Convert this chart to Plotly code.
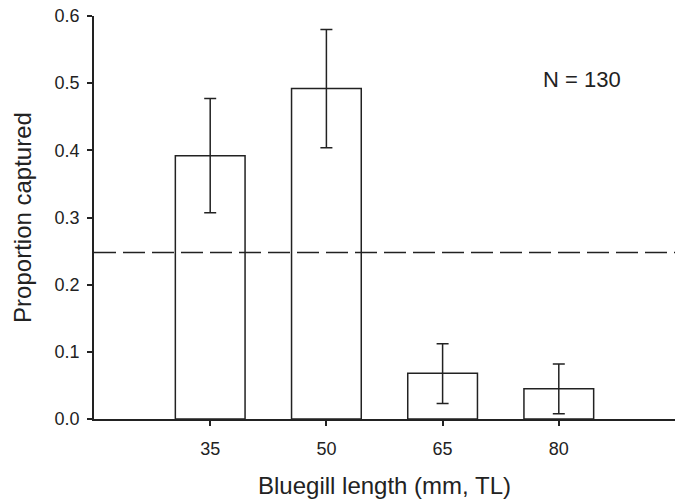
import plotly.graph_objects as go

lengths = [35, 50, 65, 80]
proportion = [0.392, 0.492, 0.068, 0.045]
err_plus = [0.085, 0.088, 0.044, 0.037]
err_minus = [0.085, 0.088, 0.045, 0.037]
expected = 0.248
tick_vals_y = [0.0, 0.1, 0.2, 0.3, 0.4, 0.5, 0.6]
tick_text_y = ["0.0", "0.1", "0.2", "0.3", "0.4", "0.5", "0.6"]

ink = "#222222"
font_family = "Liberation Sans, Arial, Helvetica, sans-serif"

fig = go.Figure()
fig.add_trace(go.Bar(
    x=lengths, y=proportion, width=9,
    marker=dict(color="white", line=dict(color=ink, width=1.5)),
    error_y=dict(type="data", symmetric=False, array=err_plus, arrayminus=err_minus,
                 color=ink, thickness=1.5, width=6),
    showlegend=False,
))

fig.add_shape(type="line", xref="paper", yref="y", x0=0, x1=1, y0=expected, y1=expected,
              line=dict(color=ink, width=1.5, dash="22px,7px"))

fig.add_annotation(x=83, y=0.505, xref="x", yref="y", text="N = 130", showarrow=False,
                   font=dict(size=22, color=ink, family=font_family))

fig.update_layout(
    width=679, height=499,
    margin=dict(l=94, r=4, t=16, b=80),
    plot_bgcolor="white", paper_bgcolor="white",
    font=dict(family=font_family, color=ink),
    xaxis=dict(range=[20, 95], tickvals=lengths, ticktext=[str(v) for v in lengths],
               automargin=False,
               showgrid=False, zeroline=False, showline=True, linecolor=ink, linewidth=1.5,
               ticks="outside", ticklen=5, tickwidth=1.5, tickcolor=ink,
               tickfont=dict(size=18, color=ink), ticklabelstandoff=8,
               title=dict(text="Bluegill length (mm, TL)", font=dict(size=24, color=ink), standoff=20)),
    yaxis=dict(range=[0, 0.6], tickvals=tick_vals_y, ticktext=tick_text_y,
               automargin=False,
               showgrid=False, zeroline=False, showline=True, linecolor=ink, linewidth=1.5,
               ticks="outside", ticklen=5, tickwidth=1.5, tickcolor=ink,
               tickfont=dict(size=18, color=ink), ticklabelstandoff=4,
               title=dict(text="Proportion captured", font=dict(size=24, color=ink), standoff=16)),
)

# remove the default page margin so the figure fills the window exactly
fig.write_html("out.html", config={"displayModeBar": False},
               post_script="document.body.style.margin='0';document.body.style.overflow='hidden';")
